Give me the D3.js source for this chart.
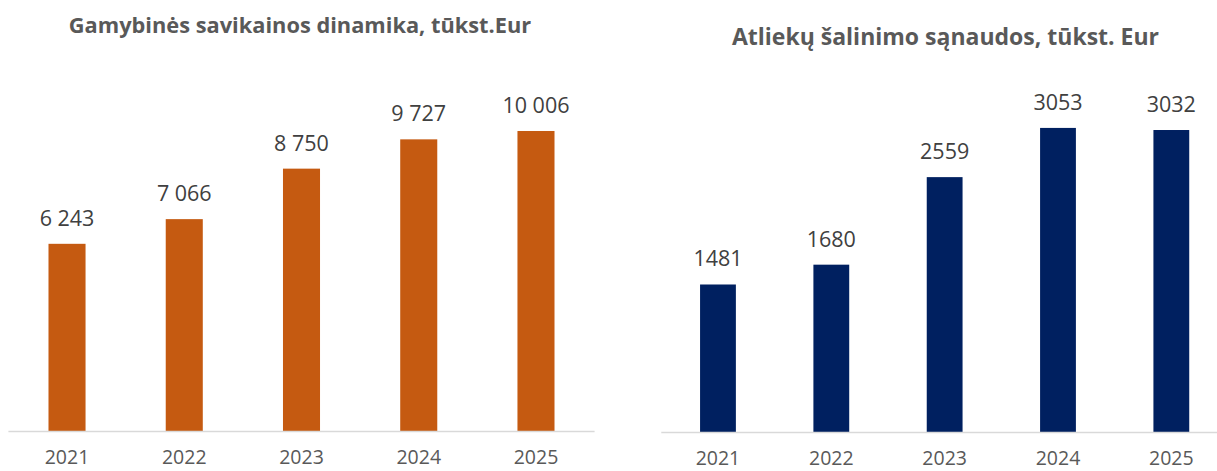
<!DOCTYPE html>
<html>
<head>
<meta charset="utf-8">
<script src="https://cdn.jsdelivr.net/npm/d3@7"></script>
<style>
  html, body { margin: 0; padding: 0; background: #fff; }
  svg { display: block; }
  text { font-family: "Open Sans", "Noto Sans", sans-serif; }
</style>
</head>
<body>
<svg id="chart" width="1217" height="471"></svg>
<script>
// Production cost dynamics, thousand EUR
const years = ["2021", "2022", "2023", "2024", "2025"];
const productionCost = [6243, 7066, 8750, 9727, 10006];
// Waste disposal costs, thousand EUR
const wasteCost = [1481, 1680, 2559, 3053, 3032];

const titleLeft = "Gamybinės savikainos dinamika, tūkst.Eur";
const titleRight = "Atliekų šalinimo sąnaudos, tūkst. Eur";

const svg = d3.select("#chart");

// format with a space as the thousands separator
const spaceFmt = d3.formatLocale({ decimal: ",", thousands: " ", grouping: [3], currency: ["", ""] }).format(",d");
const plainFmt = d3.format("d");

function drawPanel(cfg) {
  const g = svg.append("g");
  const x = d3.scaleBand()
    .domain(years)
    .range([cfg.x0, cfg.x1])
    .paddingInner(0.684)
    .paddingOuter(0.342);
  const y = d3.scaleLinear()
    .domain([0, cfg.yMax])
    .range([cfg.base, cfg.top]);

  // title
  g.append("text")
    .attr("x", cfg.titleX)
    .attr("y", cfg.titleY)
    .attr("text-anchor", "middle")
    .attr("font-size", cfg.titleSize)
    .attr("font-weight", 700)
    .attr("fill", "#595959")
    .text(cfg.title);

  // bars
  g.selectAll("rect.bar")
    .data(cfg.values)
    .join("rect")
    .attr("class", "bar")
    .attr("x", (d, i) => x(years[i]))
    .attr("width", x.bandwidth())
    .attr("y", d => y(d))
    .attr("height", d => y(0) - y(d))
    .attr("fill", cfg.color);

  // baseline
  g.append("line")
    .attr("x1", cfg.x0).attr("x2", cfg.x1)
    .attr("y1", y(0) + 0.5).attr("y2", y(0) + 0.5)
    .attr("stroke", "#d9d9d9")
    .attr("stroke-width", 1.5);

  // value labels
  g.selectAll("text.val")
    .data(cfg.values)
    .join("text")
    .attr("class", "val")
    .attr("x", (d, i) => x(years[i]) + x.bandwidth() / 2)
    .attr("y", d => y(d) - 18)
    .attr("text-anchor", "middle")
    .attr("font-size", 21.5)
    .attr("fill", "#404040")
    .text(d => cfg.fmt(d));

  // category axis
  const axis = g.append("g")
    .attr("transform", `translate(0,${y(0)})`)
    .call(d3.axisBottom(x).tickSize(0).tickPadding(19));
  axis.select(".domain").remove();
  axis.selectAll("text")
    .attr("font-size", 19.5)
    .attr("fill", "#595959")
    .style("font-family", "'Open Sans', 'Noto Sans', sans-serif");
}

drawPanel({
  title: titleLeft, titleX: 300, titleY: 33, titleSize: 21.8,
  values: productionCost, color: "#C55A11",
  x0: 8.4, x1: 594.6, base: 431, top: 71.2, yMax: 12000,
  fmt: spaceFmt
});

drawPanel({
  title: titleRight, titleX: 945.5, titleY: 45, titleSize: 23,
  values: wasteCost, color: "#002060",
  x0: 661.3, x1: 1228, base: 432, top: 83.4, yMax: 3500,
  fmt: plainFmt
});
</script>
</body>
</html>
